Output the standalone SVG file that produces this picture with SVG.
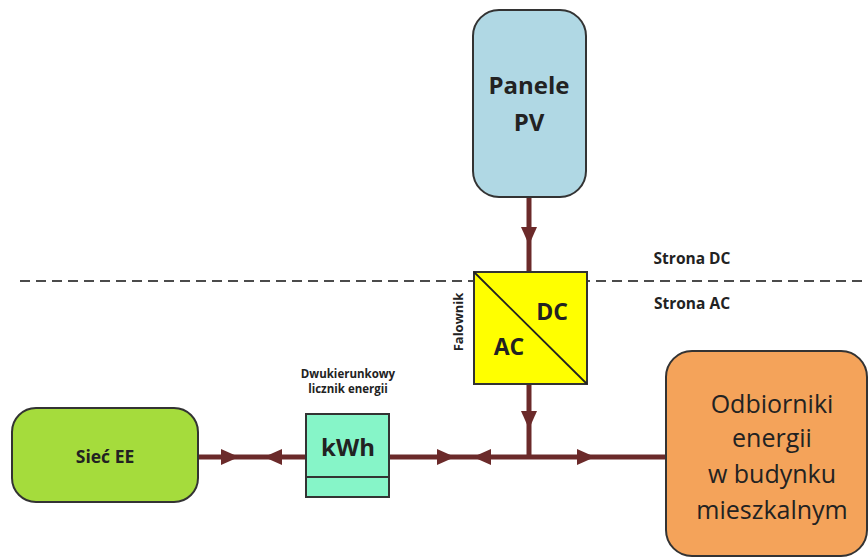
<svg xmlns="http://www.w3.org/2000/svg" xmlns:xlink="http://www.w3.org/1999/xlink" width="868" height="559" viewBox="0 0 868 559">
<style>
.t{font-family:"Open Sans","Liberation Sans",sans-serif;fill:#222;text-anchor:middle}
.b{font-weight:bold}
.line{stroke:#6b2a2a;stroke-width:5;fill:none}
.box{stroke:#333;stroke-width:2}
</style>
<defs>
<path id="ar" d="M-9,-8 L9,0 L-9,8 Z" fill="#6b2a2a"/>
</defs>
<rect width="868" height="559" fill="#fff"/>
<line x1="20" y1="281" x2="868" y2="281" stroke="#111" stroke-width="1.5" stroke-dasharray="10,6"/>
<text class="t b" x="692" y="264" font-size="15.5">Strona DC</text>
<text class="t b" x="692" y="309" font-size="15.5">Strona AC</text>
<g id="connectors">
<line class="line" x1="529" y1="197" x2="529" y2="272"/>
<use xlink:href="#ar" transform="translate(529,236) rotate(90)"/>
<line class="line" x1="529" y1="384" x2="529" y2="457"/>
<use xlink:href="#ar" transform="translate(529,420) rotate(90)"/>
<line class="line" x1="198" y1="457" x2="306" y2="457"/>
<use xlink:href="#ar" transform="translate(230,457)"/>
<use xlink:href="#ar" transform="translate(273,457) rotate(180)"/>
<line class="line" x1="389" y1="457" x2="666" y2="457"/>
<use xlink:href="#ar" transform="translate(446,457)"/>
<use xlink:href="#ar" transform="translate(482,457) rotate(180)"/>
<use xlink:href="#ar" transform="translate(586,457)"/>
</g>
<g id="pv">
<rect class="box" x="473" y="10" width="113" height="187" rx="26" fill="#b0d8e4"/>
<text class="t b" x="529" y="94" font-size="24">Panele</text>
<text class="t b" x="529" y="131" font-size="24">PV</text>
</g>
<g id="falownik">
<rect class="box" x="474" y="272" width="113" height="112" fill="#ffff00"/>
<line x1="474" y1="272" x2="587" y2="384" stroke="#222" stroke-width="1.8"/>
<text class="t b" x="552" y="320" font-size="23">DC</text>
<text class="t b" x="509" y="355" font-size="23">AC</text>
<text class="t b" x="0" y="0" font-size="13" transform="translate(463,322) rotate(-90)">Falownik</text>
</g>
<g id="siec">
<rect class="box" x="12" y="408" width="186" height="94" rx="24" fill="#a5dc3c"/>
<text class="t b" x="105" y="463" font-size="17.5">Sieć EE</text>
</g>
<g id="licznik">
<text class="t b" x="348" y="378" font-size="11.5">Dwukierunkowy</text>
<text class="t b" x="348" y="393" font-size="11.5">licznik energii</text>
<rect class="box" x="306" y="414" width="83" height="83" fill="#86f5c8"/>
<line x1="306" y1="477" x2="389" y2="477" stroke="#333" stroke-width="2"/>
<text class="t b" x="348" y="456" font-size="24">kWh</text>
</g>
<g id="odbiorniki">
<rect class="box" x="666" y="351" width="201" height="205" rx="26" fill="#f4a35a"/>
<text class="t" x="772" y="413" font-size="25">Odbiorniki</text>
<text class="t" x="772" y="447" font-size="25">energii</text>
<text class="t" x="772" y="483" font-size="25">w budynku</text>
<text class="t" x="772" y="519" font-size="25">mieszkalnym</text>
</g>
</svg>
